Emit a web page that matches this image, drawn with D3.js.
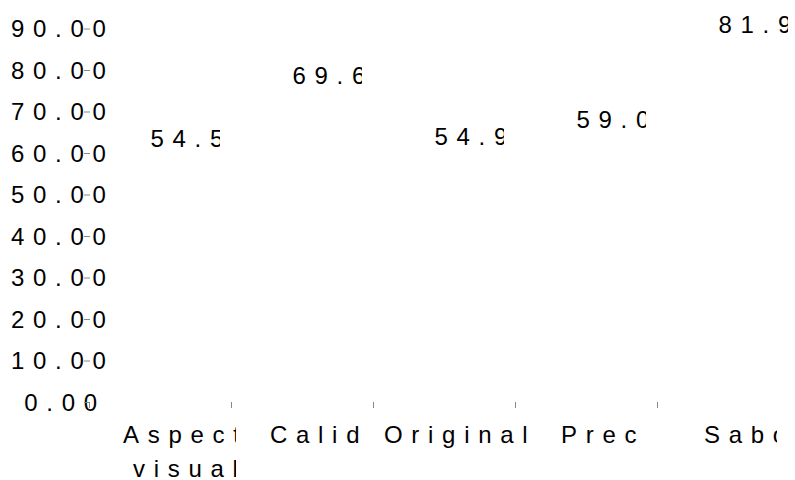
<!DOCTYPE html>
<html>
<head>
<meta charset="utf-8">
<script src="https://cdn.jsdelivr.net/npm/d3@7"></script>
<style>
  body { margin: 0; background: #fff; }
  text { font-family: "Liberation Sans", Arial, sans-serif; fill: #000; }
</style>
</head>
<body>
<script>
var categories = ["Aspecto visual", "Calidad", "Originalidad", "Precio", "Sabor"];
var values = [54.5, 69.6, 54.9, 59.0, 81.9];
var yTicks = [0, 10, 20, 30, 40, 50, 60, 70, 80, 90];

var width = 795, height = 480;
var fontSize = 24, spacing = 8.7;

// label nudges (px from band start), the original layout is oddly shifted
var labelStart = [[34, 44], [39], [11], [46], [47]];
var labelClip = [147, 134, 160, 126, 120];

var svg = d3.select("body").append("svg")
    .attr("width", width)
    .attr("height", height);

var x = d3.scaleBand().domain(categories).range([89, 799]);
var y = d3.scaleLinear().domain([0, 90]).range([402, 28.5]);

var defs = svg.append("defs");

// bars are invisible in the original, only their labels show
svg.selectAll(".bar")
    .data(values)
    .enter().append("rect")
    .attr("class", "bar")
    .attr("x", function(d, i) { return x(categories[i]); })
    .attr("width", x.bandwidth())
    .attr("y", function(d) { return y(d); })
    .attr("height", function(d) { return y(0) - y(d); })
    .attr("fill", "none");

// y axis
var yAxis = svg.append("g")
    .attr("transform", "translate(90,0)")
    .call(d3.axisLeft(y).tickValues(yTicks).tickFormat(d3.format(".2f")).tickSize(6));
yAxis.select(".domain").remove();
yAxis.selectAll(".tick line").attr("stroke", "#888");
yAxis.selectAll(".tick text")
    .attr("font-size", fontSize)
    .attr("font-family", null)
    .attr("text-anchor", "start")
    .attr("dy", "0.35em")
    .each(function() {
        var w = this.getComputedTextLength();
        d3.select(this).attr("x", -19 - w).style("letter-spacing", spacing + "px");
    });
// tick marks drawn over the labels, as in the original
yAxis.selectAll(".tick line").raise();

// x ticks sit on the band edges
svg.selectAll(".xtick")
    .data(categories)
    .enter().append("line")
    .attr("class", "xtick")
    .attr("x1", function(d) { return x(d) + 0.5; })
    .attr("x2", function(d) { return x(d) + 0.5; })
    .attr("y1", 402)
    .attr("y2", 408)
    .attr("stroke", "#888");

categories.forEach(function(c, i) {
    var id = "xclip" + i;
    defs.append("clipPath").attr("id", id)
        .append("rect")
        .attr("x", x(c))
        .attr("y", 405)
        .attr("width", labelClip[i])
        .attr("height", 80);
    var g = svg.append("g").attr("clip-path", "url(#" + id + ")");
    c.split(" ").forEach(function(word, j) {
        g.append("text")
            .attr("x", x(c) + labelStart[i][j])
            .attr("y", 443 + j * 34)
            .attr("font-size", fontSize)
            .style("letter-spacing", spacing + "px")
            .text(word);
    });
});

// value labels
values.forEach(function(v, i) {
    var cx = x(categories[i]) + x.bandwidth() / 2;
    var id = "vclip" + i;
    defs.append("clipPath").attr("id", id)
        .append("rect")
        .attr("x", cx - 20)
        .attr("y", 0)
        .attr("width", 80)
        .attr("height", height);
    svg.append("text")
        .attr("clip-path", "url(#" + id + ")")
        .attr("x", cx - 9.5)
        .attr("y", y(v) - 29)
        .attr("font-size", fontSize)
        .style("letter-spacing", spacing + "px")
        .text(v.toFixed(1));
});
</script>
</body>
</html>
